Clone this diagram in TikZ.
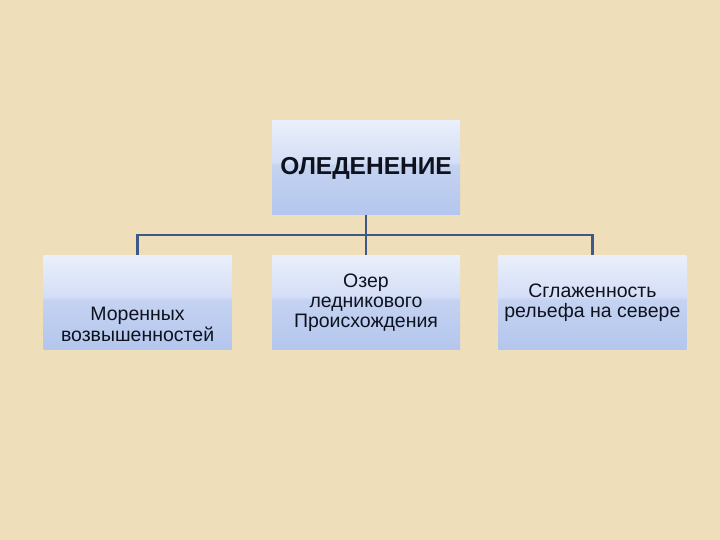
\documentclass[tikz,border=0pt]{standalone}
\usepackage{fontspec}
\setmainfont{Liberation Sans}
\usepackage{xcolor}
\usepackage{tikz}
\usetikzlibrary{positioning}

\definecolor{paper}{RGB}{238,222,186}
\definecolor{linkblue}{RGB}{62,88,136}
\definecolor{ink}{RGB}{14,18,30}
\definecolor{boxtop}{RGB}{234,239,251}
\definecolor{boxmidA}{RGB}{212,222,246}
\definecolor{boxmidB}{RGB}{197,211,241}
\definecolor{boxbot}{RGB}{180,198,238}
\pgfdeclareverticalshading{boxglow}{100bp}{color(0bp)=(boxbot); color(25bp)=(boxbot); color(51.5bp)=(boxmidB); color(53bp)=(boxmidA); color(75bp)=(boxtop); color(100bp)=(boxtop)}

\begin{document}
\begin{tikzpicture}[
    x=1pt, y=1pt,
    node distance=40pt and 40pt,
    box/.style={rectangle, shading=boxglow, minimum width=188pt, minimum height=94pt, inner sep=2pt, text centered, align=center, text=ink, font=\fontsize{19.5}{20}\selectfont},
    head/.style={box, font=\fontsize{24.5}{27}\selectfont\bfseries},
    txt/.style={inner sep=0pt, align=center, text=ink, font=\fontsize{19.5}{21}\selectfont},
    link/.style={draw=linkblue, line width=2.6pt}
]

% Background
\fill[paper] (0,0) rectangle (720,540);
\useasboundingbox (0,0) rectangle (720,540);

% Top: main node
\node[head] (ice) at (366,372) {ОЛЕДЕНЕНИЕ};

% Row 2: the three results
\node[box, below=40pt of ice] (lakes) {Озер\\ледникового\\Происхождения};
\node[box, left=40pt of lakes] (moren) {};
\node[txt, above=8pt of moren.south] (morentext) {Моренных\\возвышенностей};
\node[box, right=38pt of lakes] (smooth) {Сглаженность\\рельефа на севере};

% Connectors
\draw[link] (ice.south) -- ++(0,-20) -| (moren.north);
\draw[link] (ice.south) -- ++(0,-20) -| (smooth.north);
\draw[link] (ice.south) -- (lakes.north);

\end{tikzpicture}
\end{document}
